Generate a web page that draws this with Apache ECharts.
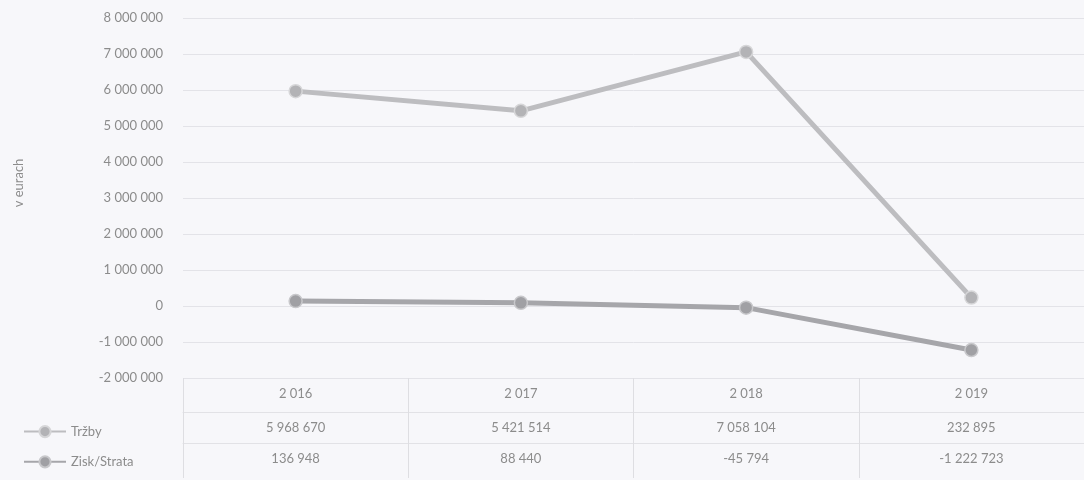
<!DOCTYPE html>
<html>
<head>
<meta charset="utf-8">
<script src="https://cdn.jsdelivr.net/npm/echarts@6/dist/echarts.min.js"></script>
<style>
  html, body { margin: 0; padding: 0; background: #f7f7fa; }
  #chart { width: 1084px; height: 480px; }
</style>
</head>
<body>
<div id="chart"></div>
<script>
// roky a hodnoty z tabulky
const years = [2016, 2017, 2018, 2019];
const trzby = [5968670, 5421514, 7058104, 232895];
const zisk = [136948, 88440, -45794, -1222723];

// 1234567 -> "1 234 567"
function fmt(v) {
    const s = String(Math.abs(v)).replace(/\B(?=(\d{3})+(?!\d))/g, ' ');
    return (v < 0 ? '-' : '') + s;
}

const txt = '#8c8c8c';
const font = 'Lato';

const myChart = echarts.init(document.getElementById('chart'));
myChart.setOption({
    animation: false,
    backgroundColor: '#f7f7fa',
    textStyle: { fontFamily: font },
    grid: { left: 183, right: -14, top: 18, bottom: 102, containLabel: false },
    legend: {
        orient: 'vertical',
        left: 18,
        top: 420,
        itemGap: 17,
        itemWidth: 42,
        itemHeight: 14,
        textStyle: { color: txt, fontSize: 13, fontFamily: font },
        data: ['Tržby', 'Zisk/Strata']
    },
    xAxis: [{
        // hlavička tabuľky (roky)
        type: 'category',
        data: years,
        boundaryGap: true,
        axisLine: { show: false, onZero: false },
        axisTick: { show: true, length: 100, lineStyle: { color: '#dedee2' } },
        axisLabel: { color: txt, fontSize: 13, margin: 9, formatter: v => fmt(Number(v)) }
    }, {
        // riadok Tržby
        type: 'category',
        data: trzby.map(fmt),
        position: 'bottom',
        offset: 34,
        axisLine: { show: true, onZero: false, lineStyle: { color: '#e2e2e6' } },
        axisTick: { show: false },
        axisLabel: { color: txt, fontSize: 13, margin: 9 }
    }, {
        // riadok Zisk/Strata
        type: 'category',
        data: zisk.map(fmt),
        position: 'bottom',
        offset: 65,
        axisLine: { show: true, onZero: false, lineStyle: { color: '#e2e2e6' } },
        axisTick: { show: false },
        axisLabel: { color: txt, fontSize: 13, margin: 9 }
    }],
    yAxis: {
        type: 'value',
        min: -2000000,
        max: 8000000,
        interval: 1000000,
        name: 'v eurach',
        nameLocation: 'middle',
        nameGap: 158,
        nameRotate: 90,
        nameTextStyle: { color: txt, fontSize: 13, fontFamily: font, padding: [0, 0, 0, 30] },
        axisLine: { show: false },
        axisTick: { show: false },
        axisLabel: { color: txt, fontSize: 13, margin: 20, formatter: v => fmt(v) },
        splitLine: { lineStyle: { color: '#e3e3e8', width: 1 } }
    },
    series: [{
        name: 'Tržby',
        type: 'line',
        data: trzby,
        symbol: 'circle',
        symbolSize: 13,
        lineStyle: { color: '#bdbdc0', width: 5 },
        itemStyle: { color: '#b3b3b6', borderColor: '#d6d6d8', borderWidth: 1.5 }
    }, {
        name: 'Zisk/Strata',
        type: 'line',
        data: zisk,
        symbol: 'circle',
        symbolSize: 13,
        lineStyle: { color: '#a6a6aa', width: 5 },
        itemStyle: { color: '#a0a0a4', borderColor: '#c8c8cb', borderWidth: 1.5 }
    }]
});
</script>
</body>
</html>
